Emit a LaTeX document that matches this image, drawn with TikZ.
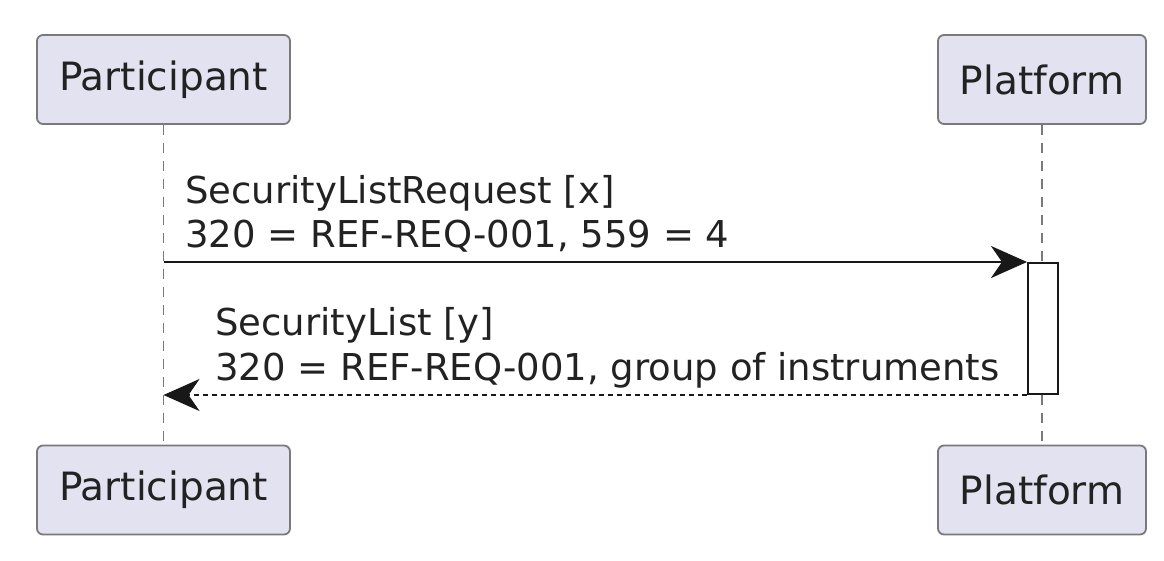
\documentclass[tikz,border=0pt]{standalone}
\usepackage{fontspec}
\setmainfont{DejaVu Sans}
\usetikzlibrary{arrows.meta}
\definecolor{boxfill}{HTML}{E2E2F0}
\definecolor{boxline}{HTML}{7A7A7A}
\definecolor{ink}{HTML}{181818}
\definecolor{txt}{HTML}{222222}
\tikzset{
  actor/.style={draw=boxline, line width=1.8pt, fill=boxfill, rounded corners=6pt,
    minimum height=89pt, inner sep=0pt, text=txt,
    font=\fontsize{39}{45}\selectfont},
  lifeline/.style={draw=boxline, line width=1.5pt, dash pattern=on 10pt off 8pt},
  activation/.style={draw=ink, line width=2pt, fill=white, minimum width=30pt,
    minimum height=131pt, inner sep=0pt},
  msg/.style={draw=ink, line width=2.4pt,
    -{Stealth[length=36pt, width=32pt, inset=11pt]}},
  reply/.style={msg, line width=2pt, dash pattern=on 5pt off 4pt},
  lbl/.style={anchor=base west, inner sep=0pt, text=txt,
    font=\fontsize{37}{44}\selectfont},
}
\begin{document}
\begin{tikzpicture}[x=1pt,y=-1pt]
\useasboundingbox[fill=white] (0,0) rectangle (1164,560);
\node[actor, minimum width=253pt] (pt) at (163.5,79.5) {Participant};
\node[actor, minimum width=208pt] (ft) at (1042,79.5) {Platform};
\node[actor, minimum width=253pt] (pb) at (163.5,490) {Participant};
\node[actor, minimum width=208pt] (fb) at (1042,490) {Platform};
\draw[lifeline] (pt.south) -- (pb.north);
\draw[lifeline] (ft.south) -- (fb.north);
\node[activation] (act) at (1043,328.5) {};
\coordinate (s1) at (pt.south |- act.north);
\coordinate (e2) at (pt.south |- act.south);
\draw[msg] (s1) -- (act.north west);
\draw[reply] (act.south west) -- (e2);
\node[lbl] (m1a) at (185,203) {SecurityListRequest [x]};
\node[lbl] (m1b) at (185,247) {320 = REF-REQ-001, 559 = 4};
\node[lbl] (m2a) at (215,335) {SecurityList [y]};
\node[lbl] (m2b) at (215,380) {320 = REF-REQ-001, group of instruments};
\end{tikzpicture}
\end{document}
